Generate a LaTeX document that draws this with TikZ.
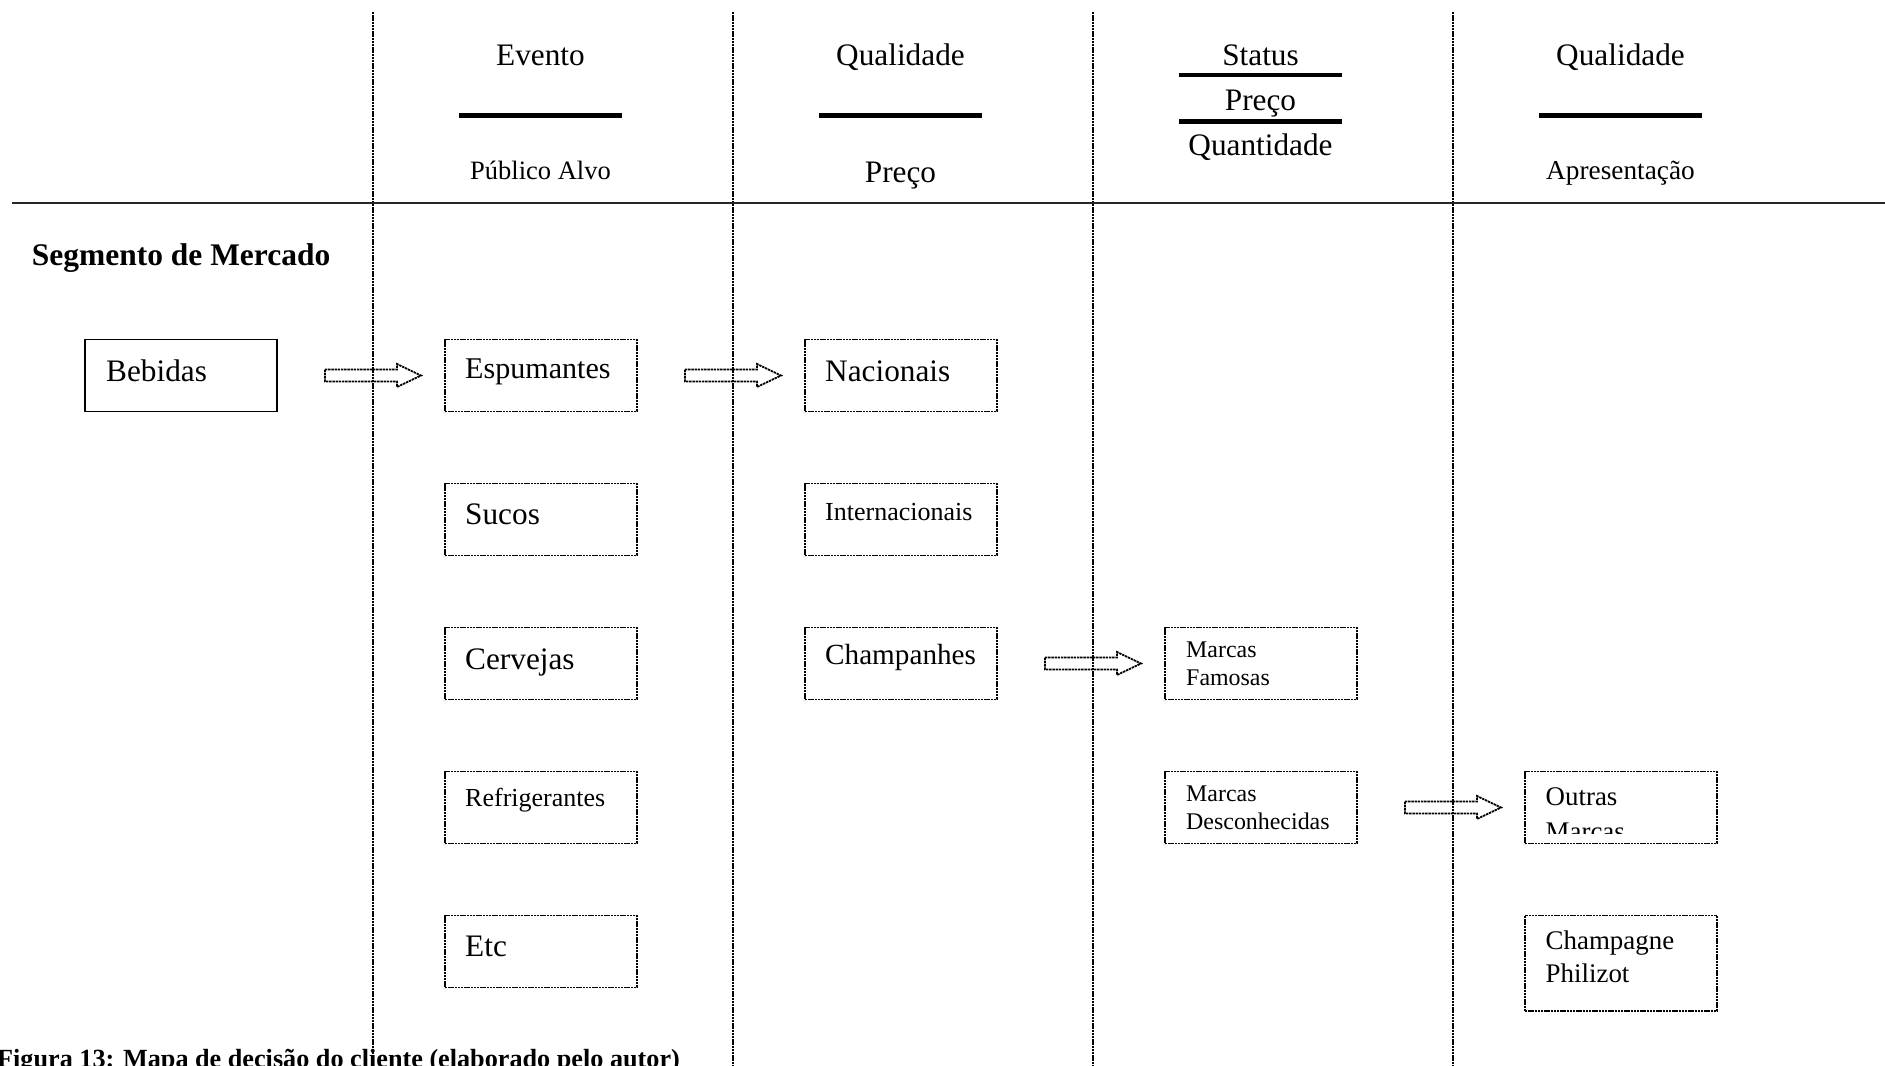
\documentclass[tikz,border=0pt]{standalone}
\usepackage{fontspec}
\setmainfont{Liberation Serif}
\usetikzlibrary{calc}

\newcommand\fsz[1]{\fontsize{#1}{1.2\dimexpr#1pt\relax}\selectfont}

\tikzset{
  every picture/.style={x=1bp,y=-1bp},
  dotline/.style={line width=1.8bp, dash pattern=on 2.4bp off 0.8bp},
  optbox/.style={draw, dotline, minimum width=192bp, minimum height=72bp,
    inner sep=0pt, outer sep=0pt, anchor=north west},
  startbox/.style={draw, line width=1.5bp, minimum width=192bp, minimum height=72bp,
    inner sep=0pt, outer sep=0pt, anchor=north west},
  lbl/.style={inner sep=0pt, anchor=base west, align=left},
  hdr/.style={inner sep=0pt, anchor=base},
  bar/.style={line width=4.5bp},
  rule/.style={line width=2.2bp, black!85},
  fat/.style={dotline, line join=miter},
}

% hollow block arrow between two points (shaft from #1, tip at #2)
\newcommand\blockarrow[2]{%
  \draw[fat] let \p1=(#1), \p2=(#2) in
    (\x1,\y1+6bp) -- (\x2-24bp,\y1+6bp) -- (\x2-24bp,\y1+11.5bp) -- (\x2,\y1)
    -- (\x2-24bp,\y1-11.5bp) -- (\x2-24bp,\y1-6bp) -- (\x1,\y1-6bp) -- cycle;}

\begin{document}
\begin{tikzpicture}
\useasboundingbox (0,0) rectangle (1885,1065);
\clip (0,0) rectangle (1885,1065);

% column separators and header rule
\foreach \cx/\nm in {373/sa,733/sb,1093/sc,1453/sd}{
  \coordinate (\nm top) at (\cx,12);
  \coordinate (\nm bot) at (\cx,1065);
  \draw[dotline] (\nm top) -- (\nm bot);
}
\coordinate (ruleL) at (12,203);
\coordinate (ruleR) at (1885,203);
\draw[rule] (ruleL) -- (ruleR);

% column headers
\node[hdr, font=\fsz{31.4}] (h1a) at (540.5,65) {Evento};
\draw[bar] (459,115.5) -- (621.5,115.5);
\node[hdr, font=\fsz{26.6}] (h1b) at (540.5,179.3) {Público Alvo};

\node[hdr, font=\fsz{31.4}] (h2a) at (900.5,65) {Qualidade};
\draw[bar] (819,115.5) -- (981.5,115.5);
\node[hdr, font=\fsz{31.4}] (h2b) at (900.5,182.3) {Preço};

\node[hdr, font=\fsz{31.4}] (h3a) at (1260.5,65) {Status};
\draw[bar] (1179,75) -- (1342,75);
\node[hdr, font=\fsz{31.4}] (h3b) at (1260.5,110) {Preço};
\draw[bar] (1179,121.3) -- (1342,121.3);
\node[hdr, font=\fsz{31.4}] (h3c) at (1260.5,155) {Quantidade};

\node[hdr, font=\fsz{31.4}] (h4a) at (1620.5,65) {Qualidade};
\draw[bar] (1539.3,115.5) -- (1701.7,115.5);
\node[hdr, font=\fsz{27.4}] (h4b) at (1620.5,179.3) {Apresentação};

\node[lbl, font=\bfseries\fsz{31.6}] (seg) at (31.7,265) {Segmento de Mercado};

% boxes
\node[startbox] (beb) at (85,339.5) {};
\node[optbox] (esp) at (445,339.5) {};
\node[optbox] (suc) at (445,483.5) {};
\node[optbox] (cer) at (445,627.5) {};
\node[optbox] (ref) at (445,771.5) {};
\node[optbox] (etc) at (445,915.5) {};
\node[optbox] (nac) at (805,339.5) {};
\node[optbox] (int) at (805,483.5) {};
\node[optbox] (cha) at (805,627.5) {};
\node[optbox] (fam) at (1165,627.5) {};
\node[optbox] (des) at (1165,771.5) {};
\node[optbox] (out) at (1525,771.5) {};
\node[optbox, minimum height=95.5bp] (phi) at (1525,915.5) {};

% box labels (two-line labels are anchored on their last baseline)
\node[lbl, font=\fsz{31.4}] at ($(beb.north west)+(21,42)$) {Bebidas};
\node[lbl, font=\fsz{30.2}] at ($(esp.north west)+(20,39)$) {Espumantes};
\node[lbl, font=\fsz{31.4}] at ($(suc.north west)+(20,41)$) {Sucos};
\node[lbl, font=\fsz{31.4}] at ($(cer.north west)+(20,41.5)$) {Cervejas};
\node[lbl, font=\fsz{26.1}] at ($(ref.north west)+(20,35)$) {Refrigerantes};
\node[lbl, font=\fsz{31.4}] at ($(etc.north west)+(20,41)$) {Etc};
\node[lbl, font=\fsz{31.4}] at ($(nac.north west)+(20,42)$) {Nacionais};
\node[lbl, font=\fsz{26.1}] at ($(int.north west)+(20,36.5)$) {Internacionais};
\node[lbl, font=\fsz{29.3}] at ($(cha.north west)+(20,36.5)$) {Champanhes};
\node[lbl, font=\fontsize{24}{27.7}\selectfont] at ($(fam.north west)+(21,57.7)$) {Marcas\\Famosas};
\node[lbl, font=\fontsize{24}{27.7}\selectfont] at ($(des.north west)+(21,57.7)$) {Marcas\\Desconhecidas};
\begin{scope}
  \clip (out.north west) rectangle ($(out.south east)+(0,-10.5)$);
  \node[lbl, font=\fontsize{27}{35}\selectfont] at ($(out.north west)+(20.5,68.5)$) {Outras\\Marcas};
\end{scope}
\node[lbl, font=\fontsize{27}{33.7}\selectfont] at ($(phi.north west)+(20.5,67.2)$) {Champagne\\Philizot};

% connectors
\coordinate (a1s) at ($(beb.east)+(48,0)$);
\coordinate (a1e) at ($(esp.west)+(-24,0)$);
\blockarrow{a1s}{a1e}
\coordinate (a2s) at ($(esp.east)+(48,0)$);
\coordinate (a2e) at ($(nac.west)+(-24,0)$);
\blockarrow{a2s}{a2e}
\coordinate (a3s) at ($(cha.east)+(48,0)$);
\coordinate (a3e) at ($(fam.west)+(-24,0)$);
\blockarrow{a3s}{a3e}
\coordinate (a4s) at ($(des.east)+(48,0)$);
\coordinate (a4e) at ($(out.west)+(-24,0)$);
\blockarrow{a4s}{a4e}

% caption
\node[lbl, font=\bfseries\fsz{26.3}] (cap) at (-3,1067)
  {Figura 13: Mapa de decisão do cliente (elaborado pelo autor)};
\end{tikzpicture}
\end{document}
